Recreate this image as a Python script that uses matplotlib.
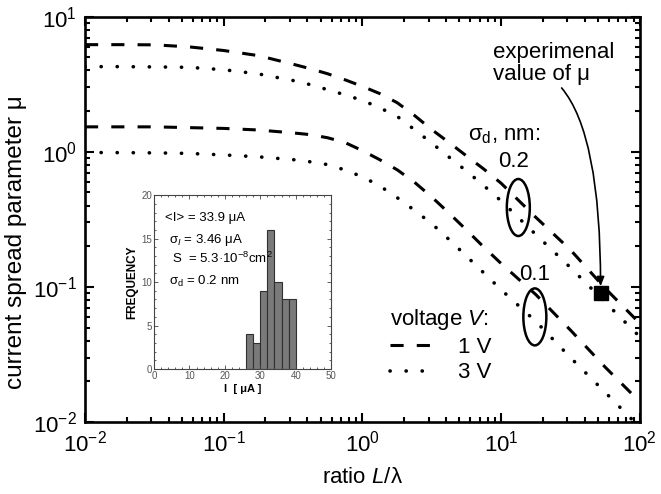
import numpy as np
import matplotlib
matplotlib.use('Agg')
import matplotlib.pyplot as plt
from matplotlib.patches import Ellipse
from matplotlib import transforms

plt.rcParams['font.family'] = ['Liberation Sans', 'DejaVu Sans']
plt.rcParams['mathtext.fontset'] = 'custom'
plt.rcParams['mathtext.rm'] = 'Liberation Sans'
plt.rcParams['mathtext.it'] = 'Liberation Sans:italic'
plt.rcParams['mathtext.bf'] = 'Liberation Sans:bold'

# ratio L/lambda
ratio = [0.01, 0.0178, 0.0316, 0.0562, 0.1, 0.178, 0.316, 0.422, 0.562,
         0.750, 1.0, 1.33, 1.78, 2.37, 3.16, 4.22, 5.62, 7.50, 10.0,
         17.8, 31.6, 56.2, 100.0]

# current spread parameter mu, sigma_d = 0.2 nm
mu_02_1V = [6.21, 6.21, 6.19, 5.98, 5.62, 5.15, 4.45, 4.12, 3.78,
            3.41, 3.05, 2.70, 2.31, 1.86, 1.46, 1.17, 0.933, 0.745, 0.585,
            0.327, 0.188, 0.0977, 0.0537]
mu_02_3V = [4.27, 4.27, 4.25, 4.22, 4.05, 3.77, 3.37, 3.14, 2.88,
            2.64, 2.40, 2.12, 1.83, 1.46, 1.16, 0.912, 0.721, 0.562, 0.433,
            0.244, 0.139, 0.0771, 0.0427]
# sigma_d = 0.1 nm
mu_01_1V = [1.53, 1.53, 1.53, 1.51, 1.49, 1.45, 1.38, 1.34, 1.27,
            1.17, 1.02, 0.875, 0.736, 0.596, 0.463, 0.351, 0.264, 0.197, 0.149,
            0.0877, 0.0479, 0.0255, 0.0141]
mu_01_3V = [0.989, 0.986, 0.982, 0.973, 0.948, 0.918, 0.875, 0.843, 0.804,
            0.733, 0.653, 0.560, 0.458, 0.369, 0.294, 0.224, 0.169, 0.127, 0.0953,
            0.0555, 0.030, 0.0166, 0.00912]

# experimental point
exp_ratio = 52.1
exp_mu = 0.0898

# inset histogram of currents
bin_left = [26, 28, 30, 32, 34, 36, 38]
bin_count = [4, 3, 9, 16, 10, 8, 8]
bin_width = 2

dash = (0, (4.3, 4.3))
dot = (0, (0.05, 4.4))

fig = plt.figure(figsize=(6.61, 4.94), dpi=100)
ax = fig.add_axes([0.1286, 0.1457, 0.8394, 0.8205])

l1, = ax.plot(ratio, mu_02_1V, color='k', lw=2.2, linestyle=dash, label='1 V')
l3, = ax.plot(ratio, mu_02_3V, color='k', lw=2.6, linestyle=dot,
              dash_capstyle='round', label='3 V')
ax.plot(ratio, mu_01_1V, color='k', lw=2.2, linestyle=dash)
ax.plot(ratio, mu_01_3V, color='k', lw=2.6, linestyle=dot, dash_capstyle='round')
ax.plot(exp_ratio, exp_mu, 's', color='k', ms=10.5)

ax.set_xscale('log')
ax.set_yscale('log')
ax.set_xlim(1e-2, 1e2)
ax.set_ylim(1e-2, 1e1)

for s in ax.spines.values():
    s.set_linewidth(1.9)
ax.tick_params(which='both', direction='in', top=True, right=True, width=1.5)
ax.tick_params(which='major', length=6.5, labelsize=16, pad=6)
ax.tick_params(which='minor', length=3.5)

ax.set_xlabel('ratio $\\it{L}$/λ', fontsize=16, labelpad=8)
ax.set_ylabel('current spread parameter μ', fontsize=17.5)
ax.yaxis.set_label_coords(-0.104, 0.444)

# legend
leg = ax.legend(handles=[l1, l3], title='voltage $\\it{V}$:', frameon=False,
                fontsize=16, title_fontsize=16, loc='upper left',
                bbox_to_anchor=(0.53, 0.31), handlelength=1.85,
                handletextpad=1.2, labelspacing=0.2, borderpad=0,
                alignment='left')

# annotations
ax.text(5.76, 1.22, 'σ$_\\mathrm{d}$, nm:', fontsize=16, va='baseline')
ax.text(12.2, 0.771, '0.2', fontsize=16, ha='center', va='baseline')
ax.text(17.4, 0.112, '0.1', fontsize=16, ha='center', va='baseline')
ax.text(8.73, 4.92, 'experimenal', fontsize=16, va='baseline')
ax.text(8.73, 3.40, 'value of μ', fontsize=16, va='baseline')

for cx, cy in [(13.3, 0.387), (17.5, 0.060)]:
    tr = fig.dpi_scale_trans + transforms.ScaledTranslation(cx, cy, ax.transData)
    ax.add_patch(Ellipse((0, 0), 0.23, 0.57, transform=tr, fill=False,
                         lw=1.8, color='k'))

ax.annotate('', xy=(exp_ratio, 0.101), xytext=(27.3, 2.97),
            arrowprops=dict(arrowstyle='-|>,head_length=0.55,head_width=0.22',
                            connectionstyle='angle3,angleA=-50,angleB=90',
                            lw=1.2, color='k', shrinkA=0, shrinkB=0))

# inset
ins = fig.add_axes([0.233, 0.253, 0.268, 0.352])
ins.bar(bin_left, bin_count, width=bin_width, align='edge',
        color='#7a7a7a', edgecolor='#303030', lw=0.8)
ins.set_xlim(0, 50)
ins.set_ylim(0, 20)
ins.set_xticks(np.arange(0, 51, 10))
ins.set_yticks(np.arange(0, 21, 5))
ins.set_xticks(np.arange(0, 51, 2), minor=True)
ins.set_yticks(np.arange(0, 21, 1), minor=True)
ins.tick_params(which='both', direction='in', top=True, right=True,
                width=0.6, color='#444444', labelsize=7, labelcolor='#555555', pad=1.5)
ins.tick_params(which='major', length=3)
ins.tick_params(which='minor', length=1.5)
for s in ins.spines.values():
    s.set_linewidth(0.8)
    s.set_color('#444444')
ins.set_xlabel('I  [ μA ]', fontsize=8, fontweight='bold', labelpad=2)
ins.set_ylabel('FREQUENCY', fontsize=8.5, fontweight='bold', labelpad=2)

ins.text(0.062, 0.851, '<I> = 33.9 μA', fontsize=9.5, transform=ins.transAxes)
ins.text(0.085, 0.724, 'σ$_I$ = 3.46 μA', fontsize=9.5, transform=ins.transAxes)
ins.text(0.10, 0.609, 'S  = 5.3·10$^{-8}$cm$^2$', fontsize=9.5, transform=ins.transAxes)
ins.text(0.085, 0.483, 'σ$_\\mathrm{d}$ = 0.2 nm', fontsize=9.5, transform=ins.transAxes)

fig.savefig('out.png', dpi=100)
